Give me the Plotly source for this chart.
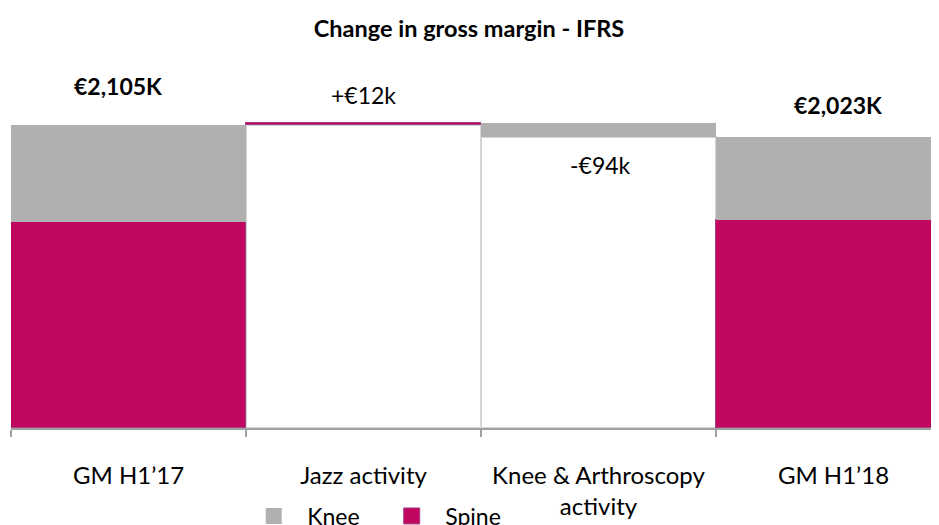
import plotly.graph_objects as go

# ---- data (k€) ----
categories = ["GM H1’17", "Jazz activity", "Knee & Arthroscopy<br>activity", "GM H1’18"]
spine_h1_17 = 1433
knee_h1_17 = 672
jazz_delta = 12          # Spine change
knee_arthro_delta = -94  # Knee change
spine_h1_18 = spine_h1_17 + jazz_delta
knee_h1_18 = knee_h1_17 + knee_arthro_delta
total_h1_17 = spine_h1_17 + knee_h1_17
total_h1_18 = spine_h1_18 + knee_h1_18

label_texts = ["<b>€2,105K</b>", "+€12k", "-€94k", "<b>€2,023K</b>"]

# waterfall construction
base_vals = [None, total_h1_17, total_h1_18, None]
spine_vals = [spine_h1_17, jazz_delta, None, spine_h1_18]
knee_vals = [knee_h1_17, None, -knee_arthro_delta, knee_h1_18]

GRAY = "#b0b0b0"
SPINE = "#c0065e"
FONT = "Lato"

fig = go.Figure()
fig.add_trace(go.Bar(x=categories, y=base_vals, marker=dict(color="white", line=dict(color="#d6d6d6", width=2)),
                     showlegend=False, hoverinfo="skip"))
fig.add_trace(go.Bar(x=categories, y=spine_vals, marker=dict(color=SPINE, line=dict(color="#a33d88", width=1.5)),
                     name="Spine", showlegend=False))
fig.add_trace(go.Bar(x=categories, y=knee_vals, marker=dict(color=GRAY, line=dict(width=0)),
                     name="Knee", showlegend=False))

# legend proxies
fig.add_trace(go.Scatter(x=[None], y=[None], mode="markers", name="Knee",
                         marker=dict(symbol="square", size=17, color=GRAY)))
fig.add_trace(go.Scatter(x=[None], y=[None], mode="markers", name="Spine",
                         marker=dict(symbol="square", size=17, color=SPINE, line=dict(color="#a33d88", width=1))))

# value labels
label_pos = [(-0.043, 2379), (-0.002, 2314), (0.008, 1827), (0.02, 2244)]
for (dx, yv), txt, i in zip(label_pos, label_texts, range(4)):
    fig.add_annotation(x=i + dx, y=yv, xref="x", yref="y", text=txt, showarrow=False,
                       font=dict(family=FONT, size=23, color="black"))

fig.update_layout(
    width=939, height=525,
    margin=dict(l=3, r=8, t=52, b=105, autoexpand=False),
    paper_bgcolor="white", plot_bgcolor="white",
    barmode="stack", bargap=0,
    title=dict(text="<b>Change in gross margin - IFRS</b>", x=(469 - 8) / 939, xref="container", xanchor="center",
               y=1 - 21 / 525, yref="container", yanchor="middle",
               font=dict(family=FONT, size=23.5, color="black")),
    font=dict(family=FONT, color="black"),
    xaxis=dict(type="category", range=[-0.5, 3.449], showline=True, linecolor="#a0a0a0", linewidth=2,
               ticks="outside", tickson="boundaries", ticklen=7, tickwidth=2, tickcolor="#a0a0a0",
               tickfont=dict(family=FONT, size=24, color="black"), ticklabelstandoff=25,
               showgrid=False, zeroline=False, fixedrange=True, automargin=False),
    yaxis=dict(range=[0, 2557], visible=False, showgrid=False, zeroline=False, automargin=False),
    legend=dict(orientation="h", x=0.247, xanchor="left", xref="paper",
                y=1 - 508 / 525, yref="container", yanchor="middle", traceorder="normal",
                font=dict(family=FONT, size=23, color="black"), itemwidth=57, entrywidth=66,
                bgcolor="rgba(0,0,0,0)"),
)

fig.write_html("out.html")
